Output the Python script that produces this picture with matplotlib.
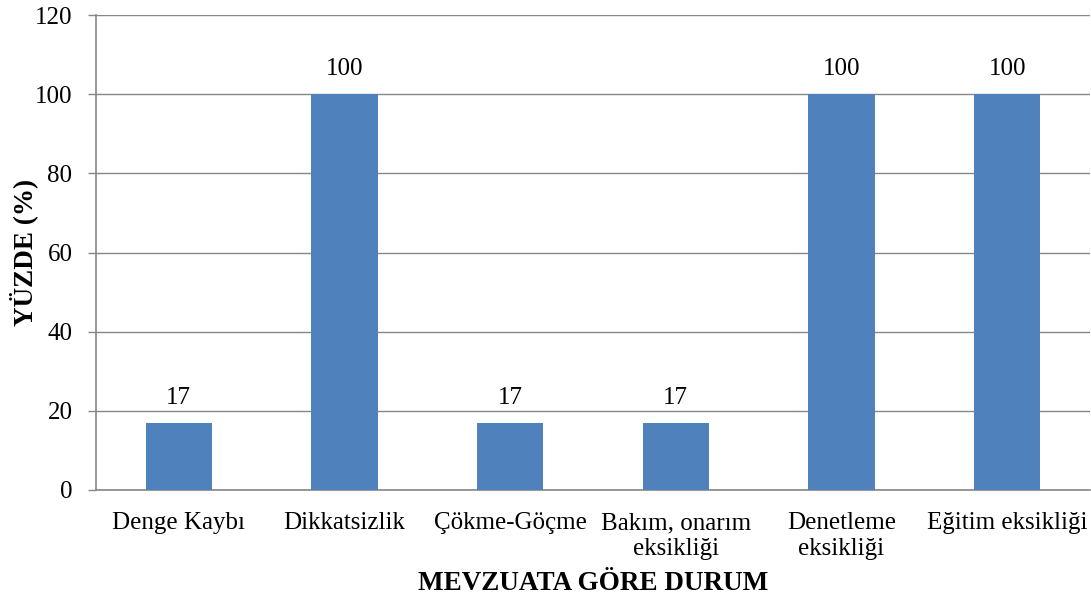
import matplotlib
matplotlib.use("Agg")
import matplotlib.pyplot as plt

categories = ["Denge Kaybı", "Dikkatsizlik", "Çökme-Göçme",
              "Bakım, onarım\neksikliği", "Denetleme\neksikliği", "Eğitim eksikliği"]
values = [17, 100, 17, 17, 100, 100]
y_ticks = [0, 20, 40, 60, 80, 100, 120]

plt.rcParams["font.family"] = ["Liberation Serif", "DejaVu Serif"]

fig = plt.figure(figsize=(10.91, 5.98), dpi=100)
ax = fig.add_axes([96 / 1091, 1 - 490 / 598, 994 / 1091, 475 / 598])

grid_color = "#878787"
x = list(range(len(categories)))
bars = ax.bar(x, values, width=0.4, color="#4F81BD", zorder=3)

for xi, v in zip(x, values):
    ax.annotate(f"{v}", (xi, v), xytext=(0, 10), textcoords="offset points",
                ha="center", va="bottom", fontsize=18)

ax.set_xlim(-0.5, len(categories) - 0.5)
ax.set_ylim(0, 120)
ax.set_yticks(y_ticks)
ax.set_xticks(x)
ax.set_xticklabels(categories, fontsize=18, linespacing=1.2)
ax.tick_params(axis="y", labelsize=18, length=6, width=1, color=grid_color, pad=11)
ax.tick_params(axis="x", length=0, pad=16)

ax.yaxis.grid(True, color=grid_color, linewidth=1, zorder=0)
ax.set_axisbelow(True)
for side in ("top", "right"):
    ax.spines[side].set_visible(False)
for side in ("left", "bottom"):
    ax.spines[side].set_color(grid_color)
    ax.spines[side].set_linewidth(1.2)

ax.set_ylabel("YÜZDE (%)", fontsize=19.5, fontweight="bold")
ax.yaxis.set_label_coords(-0.058, 0.5)
ax.set_xlabel("MEVZUATA GÖRE DURUM", fontsize=19.5, fontweight="bold", labelpad=8)

fig.savefig("out.png", dpi=100)
